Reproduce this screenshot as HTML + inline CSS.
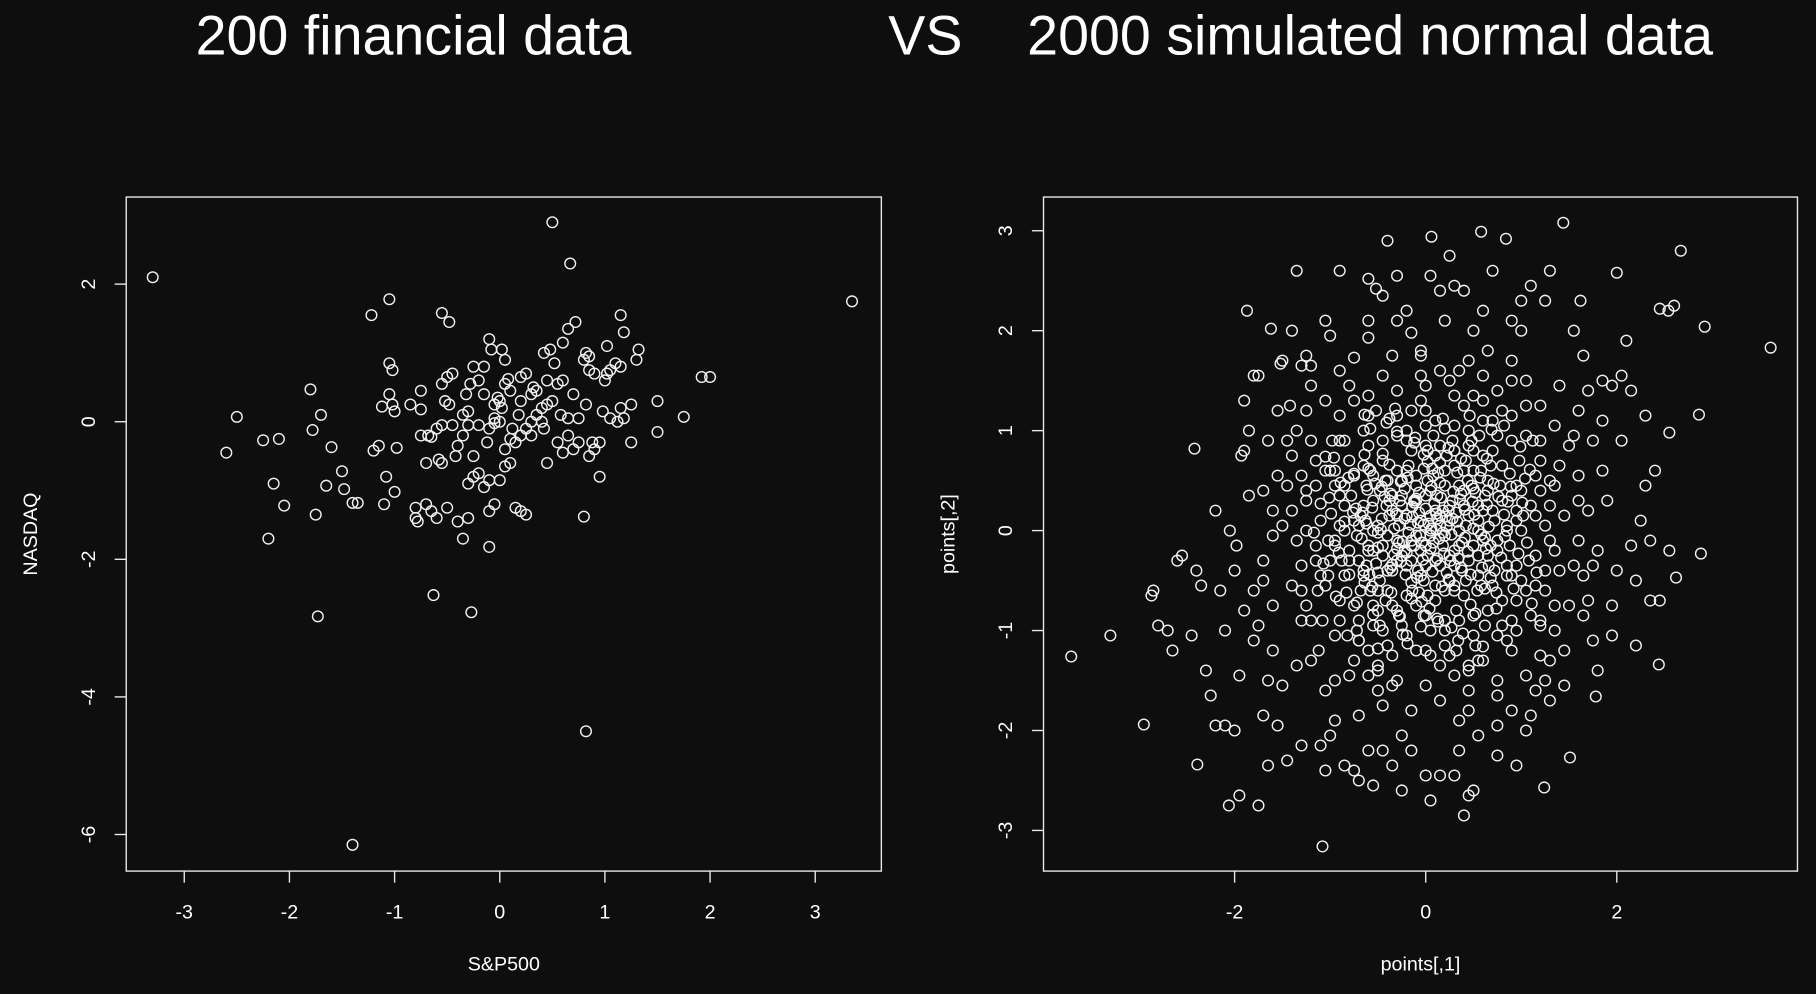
<!DOCTYPE html>
<html><head><meta charset="utf-8"><style>
html,body{margin:0;padding:0;background:#0e0e0e;}
svg{display:block;}
text{font-family:"Liberation Sans",sans-serif;fill:#ffffff;}
</style></head><body>
<svg id="chart" width="1816" height="994" viewBox="0 0 1568 858" xmlns="http://www.w3.org/2000/svg">
<rect x="0" y="0" width="1568" height="858" fill="#0e0e0e"/>
<text x="357" y="47" font-size="48" text-anchor="middle">200 financial data</text>
<text x="799" y="47" font-size="48" text-anchor="middle">VS</text>
<text x="1183" y="47" font-size="48" text-anchor="middle">2000 simulated normal data</text>
<g id="left"></g>
<g id="right"></g>
</svg>
<script>
// Left chart data: [S&P500, NASDAQ]
const finPairs = [[-3.3,2.1],[3.35,1.75],[0.5,2.9],[0.67,2.3],[-1.4,-6.15],[0.82,-4.5],[-1.73,-2.83],[-0.63,-2.52],[-0.27,-2.77],[-2.2,-1.7],[-2.6,-0.45],[-2.5,0.07],[-2.25,-0.27],[-2.1,-0.25],[-2.15,-0.9],[-2.05,-1.22],[-1.8,0.47],[-1.78,-0.12],[-1.7,0.1],[-1.75,-1.35],[-1.65,-0.93],[-1.6,-0.37],[-1.5,-0.72],[-1.48,-0.98],[-1.4,-1.18],[-1.35,-1.18],[-1.22,1.55],[-1.2,-0.42],[-1.15,-0.35],[-1.12,0.22],[-1.05,1.78],[-1.05,0.85],[-1.02,0.75],[-1.05,0.4],[-1.02,0.25],[-1.0,0.15],[-0.98,-0.38],[-1.08,-0.8],[-1.1,-1.2],[-1.0,-1.02],[-0.85,0.25],[-0.75,0.45],[-0.75,0.18],[-0.7,-0.6],[-0.68,-0.2],[-0.65,-0.22],[-0.6,-0.1],[-0.55,-0.05],[-0.58,-0.55],[-0.55,-0.6],[-0.55,1.58],[-0.48,1.45],[-0.55,0.55],[-0.5,0.65],[-0.45,0.7],[-0.52,0.3],[-0.48,0.25],[-0.45,-0.05],[-0.4,-0.35],[-0.42,-0.5],[-0.35,-0.2],[-0.3,-0.05],[-0.3,0.15],[-0.32,0.4],[-0.28,0.55],[-0.25,0.8],[-0.2,0.6],[-0.15,0.4],[-0.25,-0.5],[-0.3,-0.9],[-0.25,-0.8],[-0.2,-0.75],[-0.3,-1.4],[-0.35,-1.7],[-0.4,-1.45],[-0.5,-1.25],[-0.65,-1.3],[-0.6,-1.4],[-0.8,-1.25],[-0.8,-1.4],[-0.78,-1.45],[-0.7,-1.2],[-0.75,-0.2],[-0.1,-1.82],[-0.1,-1.3],[-0.05,-1.2],[-0.15,-0.95],[-0.12,-0.3],[-0.1,-0.1],[-0.05,0.05],[-0.05,-0.02],[0.0,0.0],[0.02,0.2],[-0.05,0.25],[-0.02,0.35],[0.05,0.55],[0.08,0.62],[0.1,0.45],[-0.1,1.2],[-0.08,1.05],[0.02,1.05],[0.05,0.9],[-0.15,0.8],[0.1,-0.25],[0.12,-0.1],[0.05,-0.4],[0.1,-0.6],[0.15,-1.25],[0.2,-1.3],[0.25,-1.35],[0.2,-0.2],[0.25,-0.1],[0.3,-0.2],[0.18,0.1],[0.2,0.3],[0.2,0.65],[0.25,0.7],[0.3,0.4],[0.32,0.5],[0.35,0.45],[0.35,0.1],[0.4,0.2],[0.4,0.0],[0.42,-0.1],[0.45,0.25],[0.45,0.6],[0.42,1.0],[0.48,1.05],[0.52,0.85],[0.55,0.55],[0.6,0.6],[0.6,1.15],[0.65,1.35],[0.72,1.45],[0.5,0.3],[0.58,0.1],[0.55,-0.3],[0.6,-0.45],[0.7,-0.4],[0.75,-0.3],[0.65,0.05],[0.75,0.05],[0.8,0.9],[0.82,1.0],[0.85,0.95],[0.85,0.75],[0.9,0.7],[0.82,0.25],[0.88,-0.3],[0.9,-0.4],[0.95,-0.3],[0.85,-0.5],[0.8,-1.38],[0.95,-0.8],[0.98,0.15],[1.0,0.6],[1.02,0.7],[1.05,0.75],[1.02,1.1],[1.1,0.85],[1.15,0.8],[1.15,1.55],[1.18,1.3],[1.15,0.2],[1.18,0.05],[1.25,0.25],[1.25,-0.3],[1.3,0.9],[1.32,1.05],[1.5,0.3],[1.5,-0.15],[1.75,0.07],[1.92,0.65],[2.0,0.65],[0.45,-0.6],[0.05,-0.65],[0.0,-0.85],[-0.1,-0.85],[0.3,0.0],[0.15,-0.3],[-0.2,-0.05],[1.05,0.05],[0.7,0.4],[0.0,0.3],[-0.35,0.1],[1.12,0.0],[0.65,-0.2]];
const finXTicks = [-3,-2,-1,0,1,2,3];
const finYTicks = [-6,-4,-2,0,2];
// Right chart data: [points[,1], points[,2]]
const simPairs = [[-3.71,-1.26],[-3.3,-1.05],[-2.95,-1.94],[-2.85,-0.6],[-2.87,-0.65],[-2.42,0.82],[-2.39,-2.34],[-2.06,-2.75],[-1.87,2.2],[-1.75,-2.75],[-1.08,-3.16],[0.06,2.94],[0.58,2.99],[0.84,2.92],[1.44,3.08],[2.67,2.8],[3.61,1.83],[2.92,2.04],[2.88,-0.23],[2.86,1.16],[2.0,2.58],[1.51,-2.27],[1.24,-2.57],[1.78,-1.66],[2.44,-1.34],[2.45,-0.7],[2.62,-0.47],[2.55,0.98],[2.54,2.2],[2.6,2.25],[2.45,2.22],[2.1,1.9],[-2.8,-0.95],[-2.7,-1.0],[-2.65,-1.2],[-2.6,-0.3],[-2.55,-0.25],[-2.4,-0.4],[-2.35,-0.55],[-2.3,-1.4],[-2.25,-1.65],[-2.2,-1.95],[-2.1,-1.95],[-2.0,-2.0],[-1.95,-2.65],[-1.9,-0.8],[-2.05,0.0],[-1.98,-0.15],[-1.93,0.75],[-1.9,0.8],[-1.85,1.0],[-1.8,1.55],[-1.75,1.55],[-1.62,2.02],[-1.52,1.67],[-1.5,1.7],[-1.42,1.25],[-1.35,2.6],[-1.3,1.65],[-1.2,1.65],[-1.05,2.1],[-0.9,2.6],[-0.75,1.73],[-0.6,1.93],[-0.6,2.52],[-0.52,2.42],[-0.4,2.9],[-0.3,2.55],[-0.3,2.1],[-0.15,1.98],[-0.05,1.8],[0.05,2.55],[0.25,2.75],[0.3,2.45],[0.4,2.4],[0.5,2.0],[0.7,2.6],[0.9,2.1],[1.1,2.45],[1.25,2.3],[1.3,2.6],[1.55,2.0],[1.62,2.3],[1.7,1.4],[1.85,1.5],[1.95,1.45],[2.05,1.55],[2.15,1.4],[2.3,0.45],[2.25,0.1],[2.15,-0.15],[2.2,-0.5],[2.35,-0.7],[1.95,-1.05],[1.75,-1.1],[1.65,-0.85],[1.45,-1.55],[1.3,-1.7],[1.1,-1.85],[0.9,-1.8],[0.75,-1.95],[0.5,-2.6],[0.45,-2.65],[0.4,-2.85],[0.3,-2.45],[0.05,-2.7],[0.0,-2.45],[-0.25,-2.6],[-0.35,-2.35],[-0.45,-2.2],[-0.55,-2.55],[-0.7,-2.5],[-0.85,-2.35],[-1.05,-2.4],[-1.1,-2.15],[-1.3,-2.15],[-1.45,-2.3],[-1.55,-1.95],[-1.7,-1.85],[-1.65,-1.5],[-1.5,-1.55],[-1.6,-1.2],[-1.75,-0.95],[-1.8,-0.6],[-1.7,-0.3],[-1.6,0.2],[-1.55,0.55],[-1.7,0.4],[-1.45,0.9],[-1.35,1.0],[-1.25,1.2],[-1.15,0.7],[-1.25,0.3],[-1.35,-0.1],[-1.4,-0.55],[-1.3,-0.9],[-1.2,-1.3],[-1.05,-1.6],[-0.95,-1.9],[-0.8,-1.45],[-0.7,-1.1],[-0.9,-0.7],[-1.0,-0.3],[-1.1,0.1],[-0.95,0.45],[-0.85,0.9],[-0.75,1.3],[-0.6,1.15],[-0.45,1.55],[-0.3,1.4],[-0.15,1.2],[0.0,1.45],[0.15,1.6],[0.3,1.35],[0.45,1.7],[0.6,1.55],[0.75,1.4],[0.9,1.7],[1.05,1.5],[1.2,1.25],[1.35,1.05],[1.5,0.85],[1.6,0.55],[1.7,0.2],[1.8,-0.2],[1.65,-0.45],[1.5,-0.75],[1.35,-1.0],[1.2,-1.25],[1.05,-1.45],[0.9,-1.2],[0.75,-1.5],[0.6,-1.3],[0.45,-1.6],[0.3,-1.45],[0.15,-1.7],[0.0,-1.55],[-0.15,-1.8],[-0.3,-1.5],[-0.45,-1.75],[-0.6,-1.45],[-0.55,-0.95],[-0.4,-1.15],[-0.25,-0.95],[-0.1,-1.2],[0.05,-1.0],[0.2,-1.15],[0.35,-0.9],[0.5,-1.05],[0.65,-0.8],[0.8,-0.95],[0.95,-0.7],[1.1,-0.85],[1.25,-0.6],[1.4,-0.4],[1.3,-0.1],[1.45,0.15],[1.35,0.45],[1.2,0.7],[1.05,0.95],[0.9,1.15],[0.75,0.95],[0.6,1.1],[0.45,0.85],[0.3,1.05],[0.15,0.85],[0.0,1.05],[-0.15,0.8],[-0.3,0.95],[-0.45,0.7],[-0.6,0.85],[-0.75,0.55],[-0.85,0.25],[-0.7,0.05],[-0.8,-0.2],[-0.65,-0.45],[-0.75,-0.75],[-0.5,-0.6],[-0.35,-0.4],[-0.2,-0.65],[-0.05,-0.45],[0.1,-0.7],[0.25,-0.5],[0.4,-0.65],[0.55,-0.45],[0.7,-0.55],[0.85,-0.35],[1.0,-0.5],[1.15,-0.25],[1.0,0.0],[1.1,0.25],[0.95,0.45],[0.8,0.65],[0.65,0.5],[0.5,0.6],[0.35,0.45],[0.2,0.6],[0.05,0.4],[-0.1,0.55],[-0.25,0.35],[-0.4,0.5],[-0.55,0.3],[-0.5,0.05],[-0.6,-0.15],[-0.45,-0.25],[-0.3,-0.1],[-0.15,-0.3],[0.0,-0.15],[0.15,-0.35],[0.3,-0.2],[0.45,-0.3],[0.6,-0.1],[0.75,-0.2],[0.85,0.05],[0.7,0.2],[0.55,0.1],[0.4,0.25],[0.25,0.1],[0.1,0.2],[-0.05,0.1],[-0.2,0.15],[-0.35,0.2],[-0.3,-0.3],[-0.1,-0.05],[0.05,0.0],[0.2,-0.05],[0.35,0.0],[0.5,-0.15],[-0.12,0.3],[0.12,0.35],[0.28,0.3],[-0.22,-0.2],[0.02,-0.25],[0.18,-0.15],[-0.4,-0.05],[0.42,0.05],[-0.08,-0.4],[0.08,0.55],[-0.48,0.4],[0.62,0.35],[0.72,-0.4],[-0.62,-0.35],[-0.18,0.65],[0.22,0.75],[-0.35,-0.75],[0.32,-0.8],[-0.9,0.05],[0.95,0.2],[-0.02,-0.85],[0.02,0.8],[-1.05,-0.55],[1.15,0.55],[-0.95,-1.05],[-1.15,0.45],[1.3,0.25],[-1.25,-0.75],[1.2,-0.95],[0.55,-1.3],[-0.3,1.15],[-0.65,1.0],[0.4,1.25],[0.85,-1.1],[-0.85,-0.45],[-1.5,0.05],[1.6,-0.1],[-1.6,-0.75],[1.55,0.95],[-1.45,0.45],[-1.35,-1.35],[1.45,-1.2],[-1.2,1.45],[1.05,1.25],[0.15,-1.35],[-0.5,-1.35],[0.65,1.8],[-0.05,1.75],[-0.9,1.6],[0.35,-2.2],[-0.7,-1.85],[1.25,-1.5],[-1.55,1.2],[1.75,0.9],[1.9,0.3],[2.0,-0.4],[-2.0,-0.4],[-2.1,-1.0],[-1.95,-1.45],[-2.15,-0.6],[2.05,0.9],[2.3,1.15],[1.85,1.1],[1.95,-0.75],[-0.2,2.2],[0.2,2.1],[0.6,2.2],[-0.6,2.1],[1.0,2.0],[-1.0,1.95],[0.35,-1.9],[-0.15,-2.2],[0.75,-2.25],[-0.6,-2.2],[-1.0,-2.05],[1.05,-2.0],[-0.25,0.5],[0.3,0.65],[-0.45,0.9],[0.5,-0.85],[-0.55,-0.75],[0.1,1.1],[-0.2,-1.05],[0.9,0.35],[-0.95,-0.15],[0.05,0.15],[-0.15,-0.1],[0.15,0.05],[-0.05,-0.2],[0.25,-0.25],[-0.25,0.25],[0.4,0.4],[-0.4,-0.4],[0.55,0.25],[-0.55,-0.2],[0.65,-0.25],[-0.65,0.25],[0.1,-0.55],[-0.1,0.45],[0.3,-0.6],[-0.3,0.6],[0.7,0.8],[-0.7,-0.9],[0.8,-0.7],[-0.8,0.7],[1.0,0.4],[-1.0,0.6],[0.45,1.0],[-0.45,-1.0],[0.2,-1.0],[-0.2,1.0],[1.15,-0.55],[-1.15,-0.15],[1.25,0.05],[-1.25,0.0],[0.05,-1.25],[-0.05,1.3],[0.95,-1.0],[-0.9,1.15],[0.6,1.3],[-0.6,-1.2],[1.4,0.65],[-1.4,0.75],[1.35,-0.75],[-1.3,-0.35],[0.25,1.5],[-0.35,-1.55],[0.75,-1.65],[-0.8,1.45],[1.55,-0.35],[-1.6,-0.05],[1.6,0.3],[-1.65,0.9],[0.9,1.5],[-0.35,1.75],[0.45,-1.8],[-0.95,-1.5],[1.15,-1.6],[-1.25,1.75],[1.7,-0.7],[-1.8,-1.1],[1.85,0.6],[-1.85,0.35],[0.05,-0.05],[0.12,0.12],[-0.08,0.08],[0.18,0.2],[-0.18,-0.02],[0.32,0.18],[-0.28,0.05],[0.08,-0.12],[-0.12,-0.15],[0.38,-0.12],[-0.38,0.3],[0.48,0.45],[-0.48,-0.5],[0.58,-0.55],[-0.58,0.6],[0.68,0.65],[-0.68,-0.6],[0.78,0.45],[-0.78,0.35],[0.88,-0.15],[-0.88,-0.3],[0.98,0.7],[-0.98,0.9],[1.08,-0.3],[-1.08,-0.9],[0.28,0.9],[-0.28,-0.85],[0.52,-1.15],[-0.52,1.2],[0.82,1.05],[-0.82,-1.05],[1.12,0.9],[-1.12,-1.2],[0.62,-0.95],[-0.62,0.45],[-0.02,0.62],[0.02,-0.65],[0.42,0.7],[-0.42,-0.7],[0.72,0.1],[-0.72,-0.05],[0.38,-0.4],[-0.38,0.15],[0.15,0.48],[-0.15,-0.52],[0.55,0.0],[-0.55,0.0],[0.0,0.35],[0.0,-0.35],[0.22,-0.42],[-0.22,0.42],[0.66,-0.35],[-0.66,0.18],[0.9,-0.45],[-0.9,0.35],[1.02,0.15],[-1.02,-0.1],[0.48,0.9],[-0.48,-0.95],[0.12,-0.88],[-0.12,0.88],[0.35,1.6],[-0.5,-1.6],[0.8,1.2],[-1.05,1.3],[1.3,-1.3],[-0.75,-1.3],[0.25,-1.25],[1.6,1.2],[-1.7,-0.5],[1.75,-0.35],[-2.2,0.2],[2.35,-0.1],[2.2,-1.15],[2.4,0.6],[-2.45,-1.05],[1.0,2.3],[-0.45,2.35],[0.15,2.4],[-0.75,-2.4],[0.15,-2.45],[0.95,-2.35],[-1.4,2.0],[-1.65,-2.35],[1.8,-1.4],[2.55,-0.2],[1.65,1.75],[-1.9,1.3],[-0.25,-2.05],[0.55,-2.05],[-1.3,0.55],[1.4,1.45],[-1.1,-0.45],[0.3,0.8],[-0.65,0.65],[0.75,-1.05],[1.2,0.4],[-0.35,-1.25],[0.45,-1.4],[-0.05,1.55],[0.6,0.75],[-0.95,0.6]];
// Additional dense-core points of the simulated cloud
const simCorePairs = [[0.03,0.07],[-0.07,0.18],[0.14,-0.08],[-0.16,0.06],[0.21,0.14],[-0.24,-0.11],[0.09,0.27],[-0.03,-0.29],[0.27,-0.04],[-0.31,0.17],[0.36,0.31],[-0.33,-0.24],[0.44,-0.21],[-0.46,0.12],[0.06,0.44],[-0.09,-0.47],[0.51,0.16],[-0.52,-0.33],[0.17,-0.56],[-0.19,0.53],[0.59,-0.37],[-0.61,0.41],[0.33,0.58],[-0.36,-0.62],[0.66,0.04],[-0.67,-0.08],[0.02,0.69],[-0.04,-0.71],[0.71,0.47],[-0.73,0.22],[0.47,-0.74],[-0.45,0.77],[0.79,-0.27],[-0.8,-0.44],[0.24,0.83],[-0.27,-0.86],[0.86,0.29],[-0.85,0.09],[0.13,-0.91],[-0.11,0.93],[0.92,-0.58],[-0.94,-0.66],[0.56,0.95],[-0.58,1.02],[0.99,0.84],[-1.01,0.33],[0.39,-1.03],[-0.41,1.08],[1.06,-0.12],[-1.07,-0.33],[0.11,0.17],[-0.14,0.24],[0.19,-0.23],[-0.26,-0.31],[0.29,0.39],[-0.07,0.38],[0.41,-0.07],[-0.43,0.34],[0.07,-0.41],[-0.21,-0.44],[0.49,0.29],[-0.5,-0.17],[0.24,-0.49],[-0.26,0.49],[0.57,0.53],[-0.56,0.23],[0.13,0.58],[-0.14,-0.6],[0.63,-0.18],[-0.64,-0.52],[0.37,0.72],[-0.38,0.66],[0.74,-0.62],[-0.75,0.57],[0.04,-0.78],[-0.02,0.76],[0.82,0.16],[-0.83,-0.62],[0.52,-0.83],[-0.55,-0.84],[0.88,0.57],[-0.89,0.48],[0.27,-0.97],[-0.3,0.99],[0.97,-0.23],[-0.99,0.17],[0.69,1.01],[-0.72,-1.0],[1.04,0.52],[-1.05,0.74],[0.18,1.12],[-0.19,-1.13],[1.11,-0.73],[-1.13,-0.6],[0.6,-1.16],[-0.64,1.16],[0.0,0.22],[0.05,-0.18],[-0.1,0.32],[0.16,0.33],[-0.2,-0.22],[0.26,-0.3],[-0.33,0.02],[0.33,0.09],[-0.06,-0.05],[0.11,0.01],[-0.14,0.14],[0.22,0.04],[-0.27,0.3],[0.3,-0.35],[-0.35,-0.34],[0.41,0.21],[-0.41,0.25],[0.47,-0.44],[-0.47,0.01],[0.52,0.38],[-0.53,0.47],[0.58,-0.04],[-0.59,-0.44],[0.64,0.26],[-0.63,0.1],[0.68,-0.47],[-0.7,-0.3],[0.76,0.34],[-0.76,0.18],[0.83,-0.06],[-0.81,0.53],[0.89,0.44],[-0.91,-0.22],[0.95,-0.35],[-0.96,0.73],[1.01,0.28],[-1.02,-0.45],[1.09,0.61],[-1.1,0.27],[1.16,-0.42],[-1.17,-0.02],[0.08,0.95],[-0.05,-0.96],[0.2,1.02],[-0.24,-1.04],[0.34,-1.1],[-0.38,1.12],[0.46,1.15],[-0.5,-1.18],[0.15,0.15],[-0.15,-0.15],[0.25,0.25],[-0.25,-0.25],[0.1,-0.3],[-0.1,0.3],[0.35,-0.15],[-0.35,0.35],[0.45,0.15],[-0.45,-0.15],[0.2,0.45],[-0.2,-0.35],[0.55,-0.25],[-0.55,0.55],[0.3,-0.55],[-0.3,0.15],[0.65,0.4],[-0.65,-0.4],[0.4,0.6],[-0.4,-0.6],[0.75,-0.1],[-0.75,0.1],[0.1,0.75],[-0.1,-0.75],[0.85,-0.45],[-0.85,0.45],[0.5,0.8],[-0.5,-0.8],[0.95,0.1],[-0.95,-0.1],[0.2,-0.9],[-0.2,0.9],[1.05,-0.6],[-1.05,0.6],[0.7,1.1],[-0.7,-1.1],[1.15,0.15],[-1.15,-0.3],[0.32,-1.2],[-0.32,1.22],[0.02,0.5],[-0.02,-0.5],[0.5,0.02],[-0.5,-0.02],[0.37,0.37],[-0.37,-0.37],[0.37,-0.37],[-0.37,0.37],[0.6,0.2],[-0.6,-0.2],[0.2,-0.6],[-0.2,0.6],[0.8,0.3],[-0.8,-0.3],[0.3,0.8],[-0.3,-0.8],[0.07,0.62],[0.62,-0.07],[-0.62,0.07],[-0.07,-0.62],[0.9,0.9],[-0.9,-0.9],[0.9,-0.9],[-0.9,0.9],[0.15,0.68],[0.68,-0.15],[-0.68,0.15],[-0.15,-0.68],[0.42,-0.5],[-0.42,0.5],[0.5,0.42],[-0.5,-0.42],[0.28,0.12],[-0.28,-0.12],[0.12,-0.28],[-0.12,0.28],[0.06,0.02],[-0.02,0.06],[0.18,-0.02],[-0.04,-0.12],[0.24,0.2],[-0.22,0.12],[0.34,-0.28],[-0.3,-0.18],[0.44,0.5],[-0.46,0.44],[0.54,-0.6],[-0.56,-0.56],[0.64,0.72],[-0.64,0.76],[0.74,-0.78],[-0.72,-0.72],[1.2,0.9],[-1.2,0.9],[1.2,-0.9],[-1.2,-0.9],[1.3,0.5],[-1.3,-0.6],[0.5,1.35],[-0.6,1.35],[0.45,-1.35],[-0.5,-1.4],[1.35,-0.2],[-1.4,0.2],[0.0,1.2],[0.0,-1.2],[1.25,-0.4],[-1.25,0.4],[0.85,0.0],[-0.85,0.0],[0.0,0.85],[0.0,-0.85],[0.58,0.6],[-0.6,0.62],[0.62,-0.58],[-0.58,-0.6]];
const simXTicks = [-2,0,2];
const simYTicks = [-3,-2,-1,0,1,2,3];

const NS = "http://www.w3.org/2000/svg";
function mk(tag, attrs, parent){ const e=document.createElementNS(NS,tag); for(const k in attrs) e.setAttribute(k,attrs[k]); parent.appendChild(e); return e; }

function panel(g, box, xmap, ymap, pairs, xticks, yticks, xlab, ylab, prefix){
  const frame = mk('rect',{x:box.x0,y:box.y0,width:box.x1-box.x0,height:box.y1-box.y0,fill:'none',stroke:'#e8e8e8','stroke-width':1.2},g);
  
  
  const pts = mk('g',{},g);
  
  
  pairs.forEach(p=>{
    const c = mk('circle',{cx:xmap(p[0]),cy:ymap(p[1]),r:4.6,fill:'none',stroke:'#f2f2f2','stroke-width':1.2},pts);
    
    
  });
  xticks.forEach(t=>{
    const x = xmap(t);
    const l = mk('line',{x1:x,x2:x,y1:box.y1,y2:box.y1+10,stroke:'#e8e8e8','stroke-width':1.2},g);
    
    
    const tx = mk('text',{x:x,y:box.y1+41,'font-size':17,'text-anchor':'middle'},g);
    tx.textContent = String(t);
    
    
  });
  yticks.forEach(t=>{
    const y = ymap(t);
    const l = mk('line',{x1:box.x0-10,x2:box.x0,y1:y,y2:y,stroke:'#e8e8e8','stroke-width':1.2},g);
    
    
    const tx = mk('text',{x:box.x0-27,y:y,'font-size':17,'text-anchor':'middle',transform:`rotate(-90 ${box.x0-27} ${y})`},g);
    tx.textContent = String(t);
    
    
  });
  const xl = mk('text',{x:(box.x0+box.x1)/2,y:838,'font-size':17,'text-anchor':'middle'},g);
  xl.textContent = xlab;
  
  
  const yx = box.x0-77, yy=(box.y0+box.y1)/2;
  const yl = mk('text',{x:yx,y:yy,'font-size':17,'text-anchor':'middle',transform:`rotate(-90 ${yx} ${yy})`},g);
  yl.textContent = ylab;
  
  
}

panel(document.getElementById('left'), {x0:109,x1:761,y0:170,y1:752},
  v=>431.5+v*90.8, v=>364-v*59.4, finPairs, finXTicks, finYTicks, 'S&P500', 'NASDAQ', 'financial');
panel(document.getElementById('right'), {x0:901,x1:1552,y0:170,y1:752},
  v=>1231+v*82.5, v=>458-v*86.3, simPairs.concat(simCorePairs), simXTicks, simYTicks, 'points[,1]', 'points[,2]', 'simulated');
</script>
</body></html>
